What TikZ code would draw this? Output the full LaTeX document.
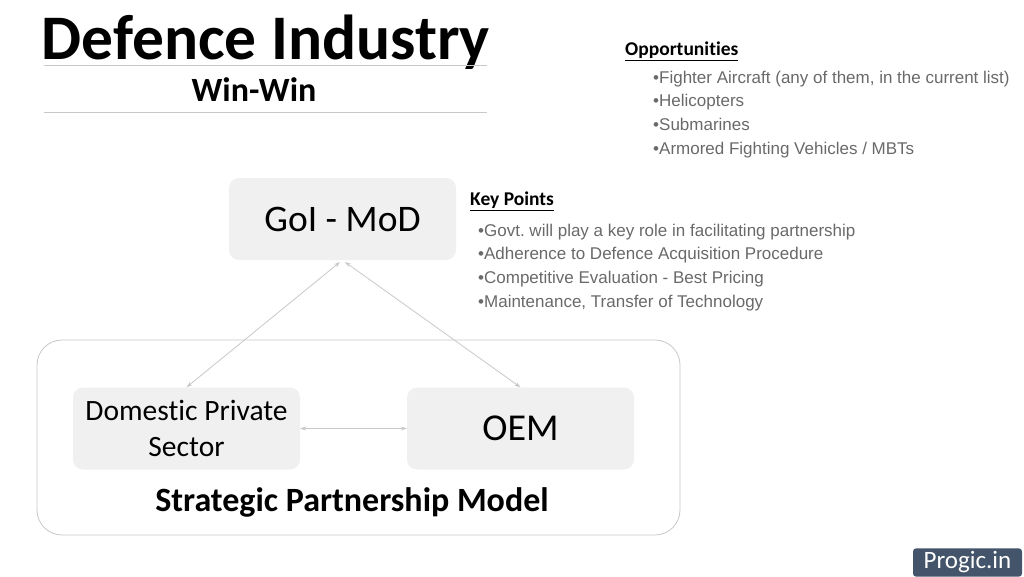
\documentclass[tikz,border=0pt]{standalone}
\usepackage{fontspec}
\setmainfont{Carlito}[Ligatures=NoCommon]
\newfontfamily\arialfont{Liberation Sans}
\usetikzlibrary{arrows.meta, positioning}
\usepackage{xcolor}
\definecolor{BoxGrey}{RGB}{240,240,240}
\definecolor{LineGrey}{RGB}{200,200,200}
\definecolor{TextGrey}{RGB}{105,105,105}
\definecolor{BadgeBlue}{RGB}{68,84,106}
\frenchspacing

\begin{document}
\begin{tikzpicture}[
          x=1pt, y=-1pt,
          entity/.style={rectangle, fill=BoxGrey, rounded corners=10pt, minimum width=227pt, minimum height=82pt, align=center, inner sep=0pt},
          heading/.style={font=\fontsize{19.5}{22}\selectfont\bfseries, anchor=west, inner sep=0pt},
          bullet/.style={font=\arialfont\fontsize{17}{19}\selectfont, text=TextGrey, anchor=west, inner sep=0pt, text height=12pt, text depth=4pt},
          rule/.style={draw=LineGrey, line width=0.8pt},
          link/.style={{Stealth[length=6pt,width=4pt]}-{Stealth[length=6pt,width=4pt]}, LineGrey, line width=0.8pt}
        ]
          \useasboundingbox (0,0) rectangle (1024,576);

          % title block
          \node (title) at (266,42) [font=\fontsize{63.5}{66}\selectfont\bfseries] {Defence Industry};
          \node (subtitle) at (254,90) [font=\fontsize{34}{36}\selectfont\bfseries] {Win-Win};
          \draw [rule] (44,65) -- (487,65);
          \draw [rule] (44,112) -- (487,112);

          % opportunities
          \node (opp) at (625,51) [heading] {\underline{Opportunities}};
          \node (opp1) at (653,79) [bullet] {•Fighter Aircraft (any of them, in the current list)};
          \node (opp2) [bullet, below=23.7pt of opp1.west, anchor=west] {•Helicopters};
          \node (opp3) [bullet, below=23.7pt of opp2.west, anchor=west] {•Submarines};
          \node (opp4) [bullet, below=23.7pt of opp3.west, anchor=west] {•Armored Fighting Vehicles / MBTs};

          % key points
          \node (key) at (470,201) [heading] {\underline{Key Points}};
          \node (key1) at (478,232) [bullet] {•Govt. will play a key role in facilitating partnership};
          \node (key2) [bullet, below=23.7pt of key1.west, anchor=west] {•Adherence to Defence Acquisition Procedure};
          \node (key3) [bullet, below=23.7pt of key2.west, anchor=west] {•Competitive Evaluation - Best Pricing};
          \node (key4) [bullet, below=23.7pt of key3.west, anchor=west] {•Maintenance, Transfer of Technology};

          % partnership model
          \node (model) at (358.5,437.5) [rectangle, draw=LineGrey, fill=white, rounded corners=25pt, minimum width=643pt, minimum height=195pt, line width=0.8pt] {};
          \node (gov) at (342.5,219) [entity, font=\fontsize{37.5}{40}\selectfont] {GoI - MoD};
          \node (dps) at (186.5,428.5) [entity, font=\fontsize{29.5}{36}\selectfont] {Domestic Private\\Sector};
          \node (oem) at (520.5,428.5) [entity, font=\fontsize{38}{40}\selectfont] {OEM};
          \node (modeltitle) at (352,502) [font=\fontsize{34}{36}\selectfont\bfseries] {Strategic Partnership Model};

          \coordinate (govl) at (340,262);
          \coordinate (govr) at (345,262);
          \draw [link] (govl) -- (dps.north);
          \draw [link] (govr) -- (oem.north);
          \draw [link] (dps.east) -- (oem.west);

          % badge
          \node (badge) at (967.5,562.5) [rectangle, fill=BadgeBlue, rounded corners=3pt, minimum width=109pt, minimum height=27pt, text=white, font=\fontsize{25}{27}\selectfont] {Progic.in};
        \end{tikzpicture}
\end{document}
